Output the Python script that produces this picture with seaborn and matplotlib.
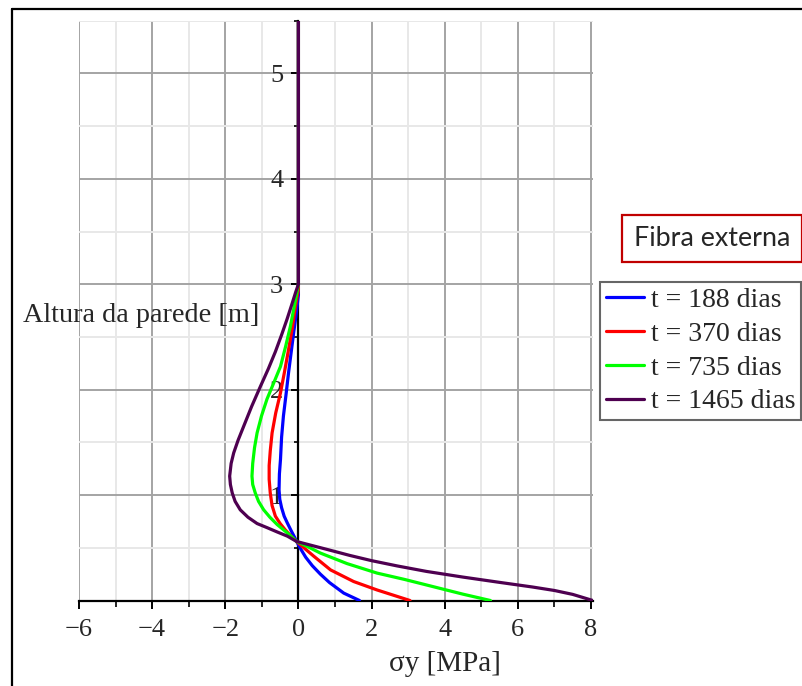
import numpy as np
import pandas as pd
import matplotlib
matplotlib.use("Agg")
import matplotlib.pyplot as plt
from matplotlib.lines import Line2D
from matplotlib.patches import Rectangle
from matplotlib.ticker import MultipleLocator
import seaborn as sns

# Stress profiles sigma_y [MPa] along the wall height [m] (external fibre)
altura_188 = [0.00, 0.07, 0.17, 0.25, 0.33, 0.41, 0.49, 0.56, 0.61, 0.67, 0.74, 0.80, 0.88, 0.96,
              1.05, 1.20, 1.34, 1.55, 1.75, 1.95, 2.16, 2.35, 2.54, 2.72, 2.90, 5.50]
sigma_188 = [1.67, 1.24, 0.85, 0.60, 0.38, 0.20, 0.06, -0.05, -0.12, -0.21, -0.31, -0.39, -0.46, -0.51,
             -0.53, -0.52, -0.49, -0.46, -0.41, -0.34, -0.27, -0.20, -0.13, -0.06, 0.00, 0.00]

altura_370 = [0.00, 0.05, 0.10, 0.18, 0.29, 0.42, 0.50, 0.56, 0.61, 0.67, 0.73, 0.80, 0.90, 1.02,
              1.15, 1.28, 1.42, 1.59, 1.78, 1.97, 2.17, 2.38, 2.58, 2.79, 2.95, 5.50]
sigma_370 = [3.05, 2.60, 2.15, 1.51, 0.88, 0.42, 0.15, -0.05, -0.20, -0.36, -0.50, -0.63, -0.72, -0.77,
             -0.80, -0.80, -0.77, -0.72, -0.62, -0.49, -0.38, -0.27, -0.17, -0.08, 0.00, 0.00]

altura_735 = [0.00, 0.06, 0.13, 0.20, 0.26, 0.35, 0.45, 0.52, 0.56, 0.64, 0.72, 0.79, 0.86, 0.94,
              1.02, 1.10, 1.18, 1.30, 1.45, 1.59, 1.75, 1.91, 2.06, 2.22, 2.41, 2.60, 2.85, 3.00, 5.50]
sigma_735 = [5.25, 4.50, 3.70, 2.90, 2.15, 1.33, 0.60, 0.20, -0.05, -0.30, -0.58, -0.78, -0.95, -1.09,
             -1.18, -1.25, -1.27, -1.25, -1.20, -1.13, -1.01, -0.86, -0.68, -0.49, -0.35, -0.22, -0.08, 0.00, 0.00]

altura_1465 = [0.00, 0.058, 0.095, 0.128, 0.172, 0.222, 0.276, 0.328, 0.378, 0.428, 0.483, 0.528, 0.56,
               0.61, 0.65, 0.69, 0.73, 0.79, 0.86, 0.94, 1.02, 1.10, 1.18, 1.30, 1.40, 1.52, 1.65,
               1.84, 2.03, 2.20, 2.36, 2.52, 2.67, 2.82, 2.93, 3.00, 5.50]
sigma_1465 = [8.05, 7.50, 7.00, 6.40, 5.50, 4.50, 3.50, 2.70, 2.00, 1.40, 0.80, 0.30, -0.05,
              -0.30, -0.58, -0.85, -1.13, -1.38, -1.59, -1.73, -1.81, -1.86, -1.88, -1.84, -1.77, -1.65, -1.50,
              -1.28, -1.04, -0.82, -0.63, -0.46, -0.31, -0.17, -0.07, 0.00, 0.00]

series = ["t = 188 dias", "t = 370 dias", "t = 735 dias", "t = 1465 dias"]
cores = ["#0000FF", "#FF0000", "#00FF00", "#4E0050"]

x_ticks = [-6, -4, -2, 0, 2, 4, 6, 8]
y_ticks = [1, 2, 3, 4, 5]

frames = []
for nome, s, h in zip(series,
                      [sigma_188, sigma_370, sigma_735, sigma_1465],
                      [altura_188, altura_370, altura_735, altura_1465]):
    frames.append(pd.DataFrame({"sigma": s, "altura": h, "serie": nome}))
df = pd.concat(frames, ignore_index=True)

sns.set_theme(style="white")
plt.rcParams["font.family"] = ["Liberation Serif", "DejaVu Serif"]

W, H = 802, 686
fig = plt.figure(figsize=(W / 100, H / 100), dpi=100)

x0, x1 = -6, 8.05
y0, y1 = 0, 5.5
left_px, right_px = 79, 79 + (x1 - x0) * 36.57
top_px, bottom_px = 20.7, 600.5
ax = fig.add_axes([left_px / W, 1 - bottom_px / H,
                   (right_px - left_px) / W, (bottom_px - top_px) / H])

sns.lineplot(data=df, x="sigma", y="altura", hue="serie", hue_order=series,
             palette=cores, sort=False, estimator=None, linewidth=2.3,
             legend=False, ax=ax)

ax.set_xlim(x0, x1)
ax.set_ylim(y0, y1)

# grid: major every 2 / 1, minor every 1 / 0.5
ax.xaxis.set_major_locator(MultipleLocator(2))
ax.xaxis.set_minor_locator(MultipleLocator(1))
ax.yaxis.set_major_locator(MultipleLocator(1))
ax.yaxis.set_minor_locator(MultipleLocator(0.5))
ax.grid(which="major", color="#A4A4A4", linewidth=1.4)
ax.grid(which="minor", color="#E8E8E8", linewidth=1.4)
ax.set_axisbelow(True)

ax.set_xticks(x_ticks)
ax.set_xticklabels([("\u2212" + str(-v)) if v < 0 else str(v) for v in x_ticks])
ax.set_yticks(y_ticks)
ax.set_yticklabels([str(v) for v in y_ticks])

for side in ["top", "right"]:
    ax.spines[side].set_visible(False)
ax.spines["left"].set_position(("data", 0))
ax.spines["bottom"].set_position(("data", 0))
for side in ["left", "bottom"]:
    ax.spines[side].set_color("black")
    ax.spines[side].set_linewidth(1.6)
    ax.spines[side].set_zorder(1.5)

ax.tick_params(axis="x", which="major", direction="out", length=6, width=1.4,
               color="black", labelsize=19, pad=7, bottom=True)
ax.tick_params(axis="x", which="minor", direction="out", length=4, width=1.2,
               color="black", bottom=True)
ax.tick_params(axis="y", which="major", direction="out", length=5, width=1.4,
               color="black", labelsize=19, pad=6, left=True)
ax.tick_params(axis="y", which="minor", direction="out", length=3, width=1.2,
               color="black", left=True)
ax.set_xlabel("")
ax.set_ylabel("")

fig.text(23 / W, 1 - 316 / H, "Altura da parede [m]", fontsize=20.3,
         ha="left", va="center")
fig.text(445 / W, 1 - 664 / H, "\u03c3y [MPa]", fontsize=21,
         ha="center", va="center")

# legend
leg = ax.legend(handles=ax.lines[:4], labels=series, loc="upper left",
                bbox_to_anchor=(600 / W, 1 - 282 / H), bbox_transform=fig.transFigure,
                borderaxespad=0, frameon=True, fancybox=False, fontsize=20.0,
                handlelength=1.4, handletextpad=0.25, labelspacing=0.3,
                borderpad=0.2)
leg.get_frame().set_edgecolor("#404040")
leg.get_frame().set_linewidth(1.5)

# "Fibra externa" box
fig.patches.append(Rectangle((622 / W, 1 - 262 / H), 180 / W, 47 / H,
                             transform=fig.transFigure, facecolor="white",
                             edgecolor="#C00000", linewidth=1.6))
fig.text(712 / W, 1 - 239 / H, "Fibra externa", fontsize=19.4,
         family=["Lato", "DejaVu Sans"], ha="center", va="center")

# outer frame
fig.add_artist(Line2D([11.5 / W, 11.5 / W], [0, 1 - 9 / H], transform=fig.transFigure,
                      color="black", linewidth=1.6))
fig.add_artist(Line2D([11.5 / W, 1], [1 - 9 / H, 1 - 9 / H], transform=fig.transFigure,
                      color="black", linewidth=1.6))

fig.savefig("out.png", dpi=100)
